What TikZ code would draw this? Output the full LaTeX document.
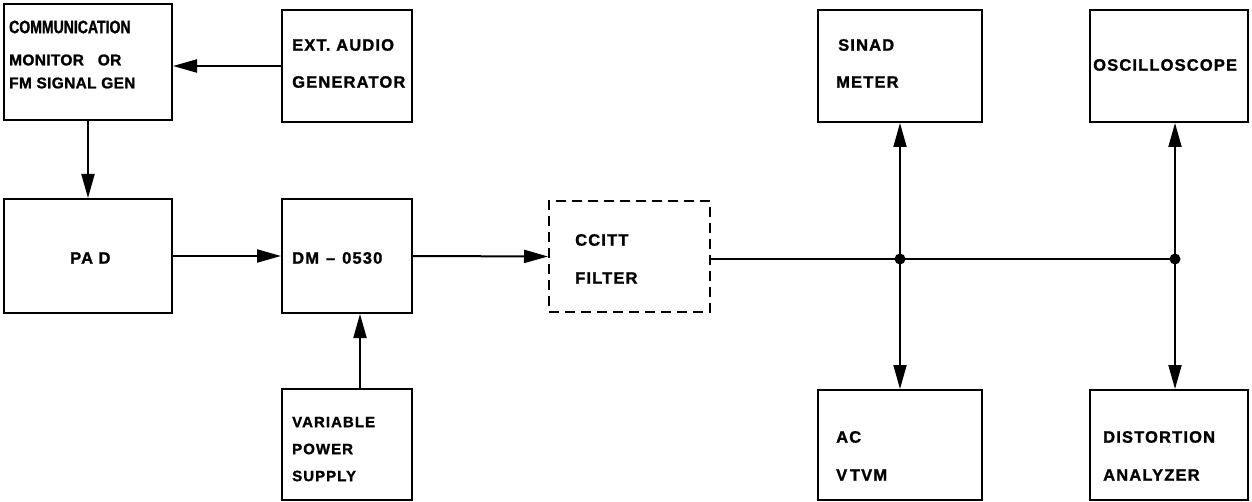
\documentclass[tikz,border=0pt]{standalone}
\usepackage{fontspec}
\setmainfont{Liberation Sans}[LetterSpace=7, BoldFeatures={FakeBold=1.3}]
\newfontfamily\condfont{Liberation Sans}[FakeStretch=0.78, BoldFeatures={FakeBold=1.3}]
\newfontfamily\tightfont{Liberation Sans}[LetterSpace=2, BoldFeatures={FakeBold=1.3}]
\usetikzlibrary{arrows.meta}
\tikzset{
  blk/.style={draw, line width=2pt, inner sep=0pt},
  dblk/.style={blk, dash pattern=on 10pt off 6pt},
  lbl/.style={anchor=west, inner sep=0pt, font=\fontsize{16.5}{16.5}\selectfont\bfseries},
  slbl/.style={lbl, font=\fontsize{15}{15}\selectfont\bfseries},
  clbl/.style={lbl, font=\fontsize{15.5}{15.5}\selectfont\tightfont\bfseries},
  conn/.style={line width=2pt, -{Triangle[length=24pt,width=13pt]}},
  wire/.style={line width=2pt},
  jdot/.style={circle, fill=black, inner sep=0pt, minimum size=11pt}
}
\begin{document}
\begin{tikzpicture}[x=1pt,y=-1pt]
\useasboundingbox (0,0) rectangle (1252,502);
% boxes
\node[blk, minimum width=168pt, minimum height=116pt] (comm) at (88,62) {};
\node[blk, minimum width=130pt, minimum height=112pt] (ext) at (347,66) {};
\node[blk, minimum width=168pt, minimum height=114pt] (pad) at (88,256) {};
\node[blk, minimum width=130pt, minimum height=114pt] (dm) at (347,256) {};
\node[dblk, minimum width=161pt, minimum height=111pt] (ccitt) at (629.5,256.5) {};
\node[blk, minimum width=164pt, minimum height=112pt] (sinad) at (900,66) {};
\node[blk, minimum width=158pt, minimum height=112pt] (osc) at (1169,66) {};
\node[blk, minimum width=130pt, minimum height=111pt] (vps) at (347,444.5) {};
\node[blk, minimum width=164pt, minimum height=110pt] (acv) at (900,445) {};
\node[blk, minimum width=158pt, minimum height=110pt] (dist) at (1169,445) {};
% labels
\node[lbl, font=\fontsize{18}{18}\selectfont\condfont\bfseries] (t1) at (9,27) {COMMUNICATION};
\node[clbl] (t2) at (9,60) {MONITOR\ \ \ OR};
\node[clbl] (t3) at (9,83) {FM SIGNAL GEN};
\node[lbl] (t4) at (292,45) {EXT. AUDIO};
\node[lbl] (t5) at (292,82) {GENERATOR};
\node[lbl] (t6) at (70,258) {PA\,\,D};
\node[lbl] (t7) at (292,258) {DM\hspace{7pt}--\hspace{7pt}0530};
\node[lbl] (t8) at (575,240) {CCITT};
\node[lbl] (t9) at (575,278) {FILTER};
\node[lbl] (t10) at (838,45) {SINAD};
\node[lbl] (t11) at (836,82) {METER};
\node[lbl] (t12) at (1093,65) {OSCILLOSCOPE};
\node[slbl] (t13) at (292,422) {VARIABLE};
\node[slbl] (t14) at (292,449) {POWER};
\node[slbl] (t15) at (292,476) {SUPPLY};
\node[lbl] (t16) at (836,437) {AC};
\node[lbl] (t17) at (836,475) {V\,TVM};
\node[lbl] (t18) at (1103,437) {DISTORTION};
\node[lbl] (t19) at (1103,475) {ANALYZER};
% junctions
\node[jdot] (j1) at (900,259) {};
\node[jdot] (j2) at (1175,259) {};
% connectors
\draw[conn] (ext.west) -- (ext.west -| comm.east);
\draw[conn] (comm.south) -- (pad.north);
\draw[conn] (pad.east) -- (dm.west);
\draw[conn] (dm.east) -- (ccitt.west);
\draw[conn] ([xshift=13pt]vps.north) -- ([xshift=13pt]dm.south);
\draw[wire] (ccitt.east |- j1) -- (j2.center);
\draw[conn] (j1.center) -- (sinad.south);
\draw[conn] (j1.center) -- (acv.north);
\draw[conn] (j2.center) -- (j2 |- osc.south);
\draw[conn] (j2.center) -- (j2 |- dist.north);
\end{tikzpicture}
\end{document}
